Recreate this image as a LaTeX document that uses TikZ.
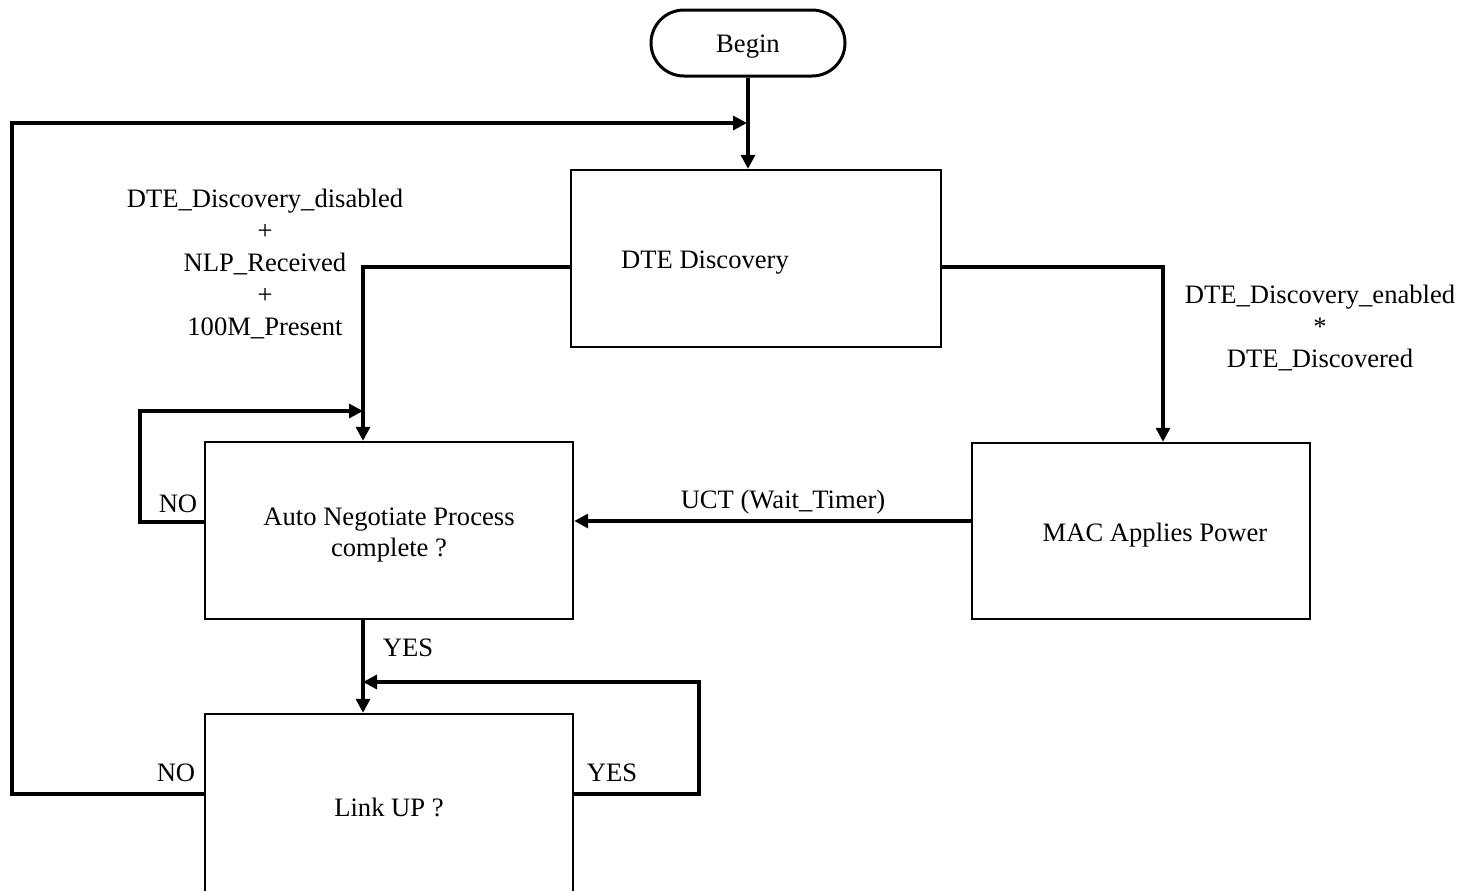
\documentclass[tikz,border=0pt]{standalone}
\usepackage{fontspec}
\setmainfont{Liberation Serif}
\usetikzlibrary{arrows.meta}
\begin{document}
\begin{tikzpicture}[x=0.5pt,y=-0.5pt,
  font=\fontsize{13.3}{15.9}\selectfont,
  box/.style={draw,line width=1.2pt,rectangle,inner sep=0pt},
  arr/.style={line width=1.6pt,-{Triangle[length=7pt,width=7pt]}},
  lbl/.style={inner sep=0pt,align=center}]
\useasboundingbox (0,0) rectangle (1461,890);
\node[box,rounded corners=16.5pt,line width=1.5pt,minimum width=97pt,minimum height=33pt] (begin) at (748,43) {};
\node[lbl] (begint) at (748,47) {Begin};
\node[box,minimum width=185pt,minimum height=88.5pt] (dte) at (756,258.5) {};
\node[lbl] (dtet) at (705,263) {DTE Discovery};
\node[box,minimum width=184pt,minimum height=88.5pt] (auto) at (389,530.5) {};
\node[lbl] (autot) at (389,535) {Auto Negotiate Process\\complete ?};
\node[box,minimum width=169pt,minimum height=88pt] (mac) at (1141,531) {};
\node[lbl] (mact) at (1155,535) {MAC Applies Power};
\node[box,minimum width=184pt,minimum height=89pt] (link) at (389,803) {};
\node[lbl] (linkt) at (389,807) {Link UP ?};

\coordinate (jtop) at (747,123);
\coordinate (jauto) at (363,411);
\coordinate (jlink) at (363,682);

\draw[arr] (begin.south) -- (begin.south |- dte.north);
\draw[arr] ([yshift=-4.25pt]dte.west) -| ([xshift=-13pt]auto.north);
\draw[arr] ([yshift=-4.25pt]dte.east) -| ([xshift=11pt]mac.north);
\draw[arr] ([yshift=5pt]mac.west) -- ([yshift=5pt]mac.west -| auto.east);
\draw[arr] ([yshift=4.25pt]auto.west) -| (140,411) -- (jauto);
\draw[arr] ([xshift=-13pt]auto.south) -- ([xshift=-13pt]link.north);
\draw[arr] ([yshift=4.5pt]link.east) -| (699,682) -- (jlink);
\draw[arr] ([yshift=4.5pt]link.west) -| (12,123) -- (jtop);

\node[lbl] (l1) at (265,264) {DTE\_Discovery\_disabled\\+\\NLP\_Received\\+\\100M\_Present};
\node[lbl] (l2) at (1320,328) {DTE\_Discovery\_enabled\\*\\DTE\_Discovered};
\node[lbl] (l3) at (783,502) {UCT (Wait\_Timer)};
\node[lbl] (l4) at (178,504) {NO};
\node[lbl] (l5) at (408,648) {YES};
\node[lbl] (l6) at (176,773) {NO};
\node[lbl] (l7) at (612,773) {YES};
\end{tikzpicture}
\end{document}
